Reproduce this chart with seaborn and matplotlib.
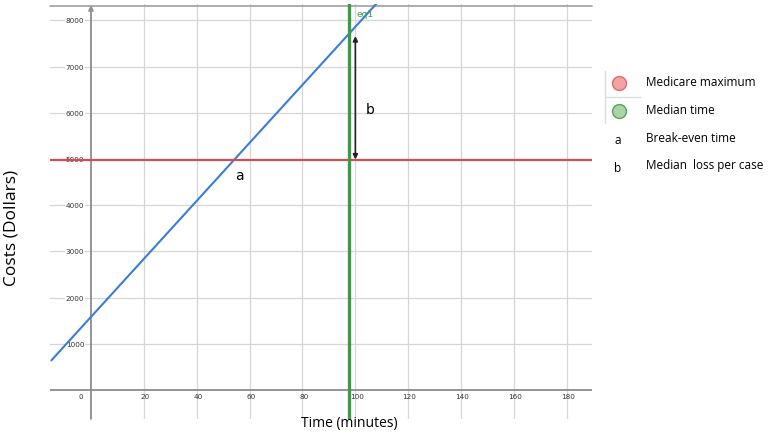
import matplotlib.pyplot as plt
import seaborn as sns
from matplotlib.lines import Line2D

# values
line_time = [-15, 110]
line_cost = [640, 8490]
medicare_max = 4970
median_time = 97.5
loss_time = 100
loss_top, loss_bottom = 7660, 4990
x_ticks = [0, 20, 40, 60, 80, 100, 120, 140, 160, 180]
y_ticks = [1000, 2000, 3000, 4000, 5000, 6000, 7000, 8000]
legend_labels = ["Medicare maximum", "Median time"]
legend_notes = [("a", "Break-even time"), ("b", "Median  loss per case")]

sns.set_theme(style="white")
plt.rcParams["font.family"] = ["DejaVu Sans"]
plt.rcParams["text.color"] = "black"

fig = plt.figure(figsize=(7.72, 4.35), dpi=100)
ax = fig.add_axes([50 / 772, 15 / 435, 542 / 772, 415 / 435])
ax.set_xlim(-15.5, 189.5)
ax.set_ylim(-628, 8355)
for s in ax.spines.values():
    s.set_visible(False)
ax.set_xticks([])
ax.set_yticks([])

# grid
for t in x_ticks[1:]:
    ax.axvline(t, color="#d6d6d6", lw=0.9, zorder=0)
for v in y_ticks:
    ax.axhline(v, color="#d6d6d6", lw=0.9, zorder=0)
ax.axhline(8320, color="#a0a0a0", lw=1.2, zorder=1, clip_on=False)

# axes
ax.axhline(0, color="#8c8c8c", lw=1.3, zorder=1)
ax.annotate("", xy=(0, 8330), xytext=(0, -628),
            arrowprops=dict(arrowstyle="->", color="#8c8c8c", lw=1.3,
                            shrinkA=0, shrinkB=0, mutation_scale=7),
            zorder=1, annotation_clip=False)

# tick labels
for t in x_ticks:
    ax.text(t - 3 if t == 0 else t + 0.5, -130, str(t), ha="right" if t == 0 else "center",
            va="center", fontsize=5.2, color="#333333")
for v in y_ticks:
    ax.text(-2.5, v, str(v), ha="right", va="center", fontsize=5.2, color="#333333",
            bbox=dict(facecolor="white", edgecolor="none", pad=0.3))

# series
sns.lineplot(x=line_time, y=line_cost, ax=ax, color="#3a7dd6", lw=1.5, zorder=3)
ax.axhline(medicare_max, color="#e04848", lw=1.5, zorder=3)
ax.axvline(median_time, color="#3d9a45", lw=2.4, zorder=4)
ax.text(median_time + 3, 8160, "eq1", color="#3d9a45", fontsize=6.5, va="center")

ax.annotate("", xy=(loss_time, loss_top), xytext=(loss_time, loss_bottom),
            arrowprops=dict(arrowstyle="<|-|>", color="#222222", lw=1.2,
                            shrinkA=0, shrinkB=0, mutation_scale=7), zorder=5)
ax.text(105.5, 6080, "b", fontsize=10, ha="center", va="center")
ax.text(56, 4650, "a", fontsize=10, ha="center", va="center")

# axis titles
fig.text(349 / 772, 1 - 424 / 435, "Time (minutes)", ha="center", va="center",
         fontsize=10, family="Open Sans")
fig.text(12 / 772, 1 - 228 / 435, "Costs (Dollars)", ha="center", va="center",
         rotation=90, fontsize=12.5, family="Open Sans")

# legend
def fx(px):
    return px / 772

def fy(py):
    return 1 - py / 435

fig.add_artist(Line2D([fx(605), fx(605)], [fy(72), fy(124)], color="#dddddd", lw=1))
fig.add_artist(Line2D([fx(605), fx(640)], [fy(98), fy(98)], color="#dddddd", lw=1))
marker_styles = [("#f4a3a3", "#e06a6a", 84), ("#a9d4a4", "#5f9e5f", 112)]
for label, (fc, ec, py) in zip(legend_labels, marker_styles):
    fig.add_artist(Line2D([fx(619)], [fy(py)], marker="o", markersize=10,
                          markerfacecolor=fc, markeredgecolor=ec, lw=0))
    fig.text(fx(646), fy(py - 1), label, va="center", fontsize=8.5, family="Open Sans")
for (key, note), py in zip(legend_notes, [139, 166]):
    fig.text(fx(618), fy(py + 2), key, va="center", ha="center", fontsize=8.5, family="Open Sans")
    fig.text(fx(646), fy(py), note, va="center", fontsize=8.5, family="Open Sans")

fig.savefig("out.png", dpi=100)
